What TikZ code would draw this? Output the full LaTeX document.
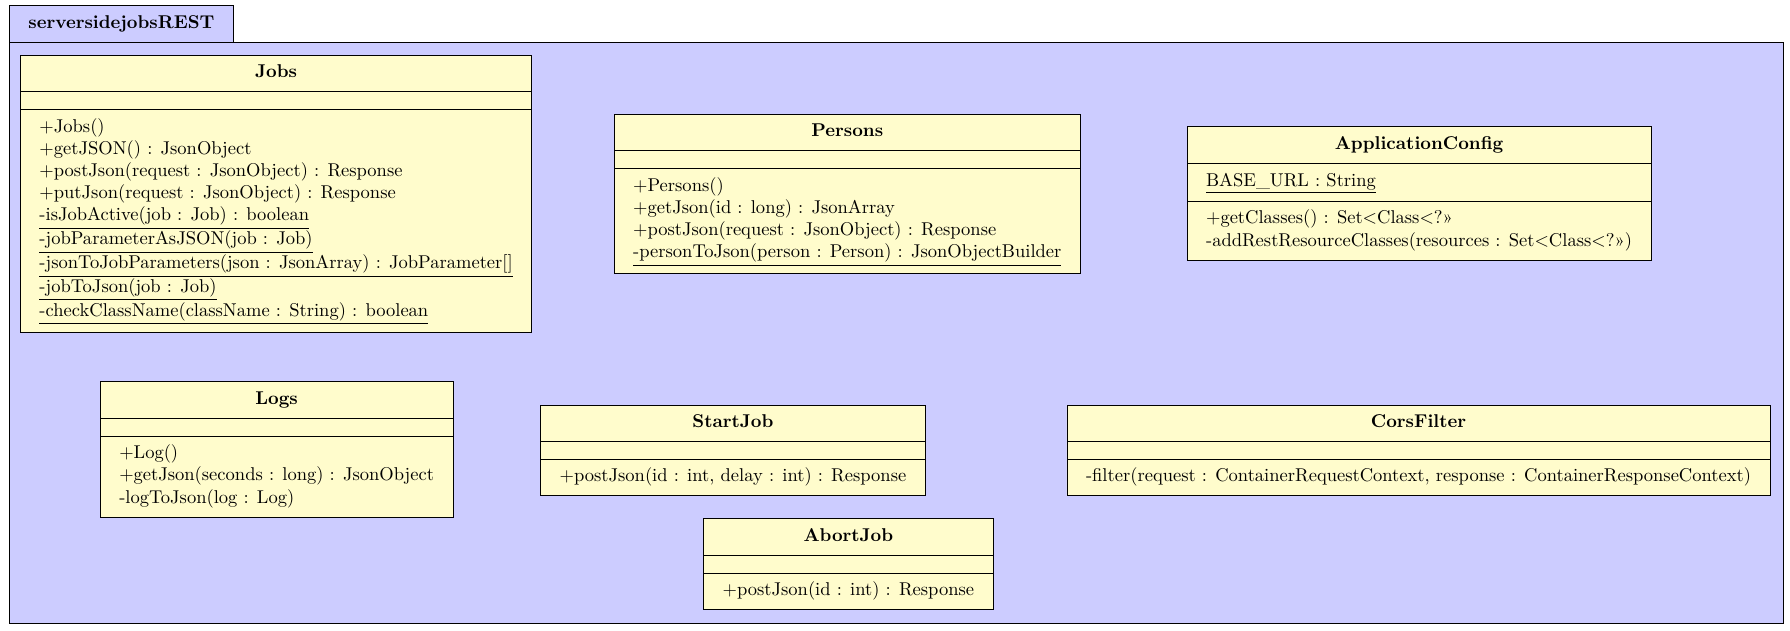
\documentclass[tikz,border=0pt]{standalone}
\usepackage{tikz}
\usetikzlibrary{shapes.multipart}

\newcommand{\emptypart}{\vrule height 1.6pt depth 0pt width 0pt}

\begin{document}
\begin{tikzpicture}[
        umlclass/.style={rectangle split, rectangle split parts=3, draw, fill=yellow!20,
            inner xsep=10.3pt, inner ysep=3.7pt, anchor=north,
            rectangle split empty part height=1.6pt,
            rectangle split part align={center,left,left}},
        pkgtab/.style={draw, fill=blue!20, anchor=south west, inner xsep=10.3pt, minimum height=19.7pt},
        pkgframe/.style={draw, fill=blue!20}
    ]
        \useasboundingbox (0,0) rectangle (33.97,11.96);
        \filldraw [pkgframe] (0.17,0.13) rectangle (33.84,11.15);
        \node [pkgtab] (pkg) at (0.17,11.15) {\textbf{serversidejobsREST}};
        \node [umlclass] (jobs) at (5.24,10.92) {\textbf{Jobs}\strut%
            \nodepart{second}\emptypart%
            \nodepart{third}\begin{tabular}{@{}l@{}}
                +Jobs()\\
                +getJSON() : JsonObject\\
                +postJson(request : JsonObject) : Response\\
                +putJson(request : JsonObject) : Response\\
                \underline{-isJobActive(job : Job) : boolean}\\
                \underline{-jobParameterAsJSON(job : Job)}\\
                \underline{-jsonToJobParameters(json : JsonArray) : JobParameter[]}\\
                \underline{-jobToJson(job : Job)}\\
                \underline{-checkClassName(className : String) : boolean}
            \end{tabular}};
        \node [umlclass] (persons) at (16.08,9.80) {\textbf{Persons}\strut%
            \nodepart{second}\emptypart%
            \nodepart{third}\begin{tabular}{@{}l@{}}
                +Persons()\\
                +getJson(id : long) : JsonArray\\
                +postJson(request : JsonObject) : Response\\
                \underline{-personToJson(person : Person) : JsonObjectBuilder}
            \end{tabular}};
        \node [umlclass] (appconfig) at (26.93,9.56) {\textbf{ApplicationConfig}\strut%
            \nodepart{second}\begin{tabular}{@{}l@{}}
                \underline{BASE\_URL : String}
            \end{tabular}%
            \nodepart{third}\begin{tabular}{@{}l@{}}
                +getClasses() : Set<Class<?»\\
                -addRestResourceClasses(resources : Set<Class<?»)
            \end{tabular}};
        \node [umlclass] (logs) at (5.25,4.72) {\textbf{Logs}\strut%
            \nodepart{second}\emptypart%
            \nodepart{third}\begin{tabular}{@{}l@{}}
                +Log()\\
                +getJson(seconds : long) : JsonObject\\
                -logToJson(log : Log)
            \end{tabular}};
        \node [umlclass] (startjob) at (13.91,4.28) {\textbf{StartJob}\strut%
            \nodepart{second}\emptypart%
            \nodepart{third}\begin{tabular}{@{}l@{}}
                +postJson(id : int, delay : int) : Response
            \end{tabular}};
        \node [umlclass] (abortjob) at (16.10,2.12) {\textbf{AbortJob}\strut%
            \nodepart{second}\emptypart%
            \nodepart{third}\begin{tabular}{@{}l@{}}
                +postJson(id : int) : Response
            \end{tabular}};
        \node [umlclass] (corsfilter) at (26.92,4.28) {\textbf{CorsFilter}\strut%
            \nodepart{second}\emptypart%
            \nodepart{third}\begin{tabular}{@{}l@{}}
                -filter(request : ContainerRequestContext, response : ContainerResponseContext)
            \end{tabular}};
    \end{tikzpicture}
\end{document}
